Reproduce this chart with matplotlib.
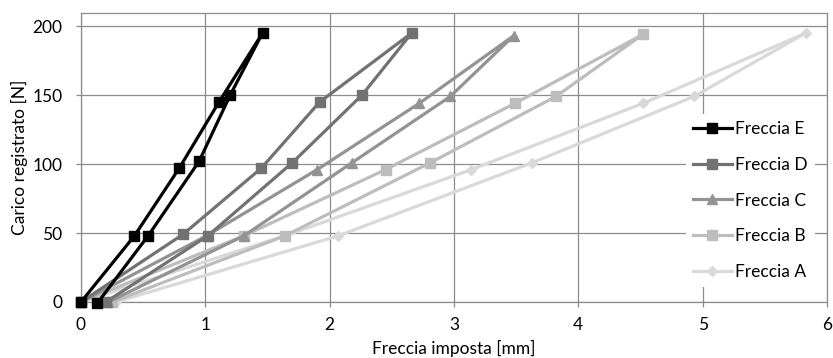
import matplotlib
matplotlib.use("Agg")
import matplotlib.pyplot as plt

plt.rcParams['font.family'] = ['Lato', 'DejaVu Sans']

series_names = ["Freccia E", "Freccia D", "Freccia C", "Freccia B", "Freccia A"]

E_x = [0, 0.43, 0.79, 1.11, 1.46, 1.20, 0.95, 0.54, 0.13]
E_y = [0, 48, 97, 145, 195, 150, 102, 48, -1]

D_x = [0, 0.82, 1.45, 1.92, 2.66, 2.26, 1.70, 1.02, 0.20]
D_y = [0, 49, 97, 145, 195, 150, 101, 48, 0]

C_x = [0, 1.01, 1.90, 2.72, 3.48, 2.97, 2.18, 1.31, 0.22]
C_y = [0, 48, 96, 144, 193, 149, 101, 48, 0]

B_x = [0, 1.31, 2.45, 3.49, 4.52, 3.82, 2.81, 1.64, 0.25]
B_y = [0, 48, 96, 144, 194, 149, 101, 48, 0]

A_x = [0, 1.64, 3.14, 4.52, 5.83, 4.93, 3.63, 2.07, 0.28]
A_y = [0, 48, 96, 144, 195, 149, 101, 48, 0]

x_ticks = [0, 1, 2, 3, 4, 5, 6]
y_ticks = [0, 50, 100, 150, 200]

xs = [E_x, D_x, C_x, B_x, A_x]
ys = [E_y, D_y, C_y, B_y, A_y]
colors = ["#000000", "#727272", "#939393", "#bdbdbd", "#d9d9d9"]
markers = ["s", "s", "^", "s", "D"]
msizes = [6.8, 6.8, 7.5, 6.8, 5.2]

fig = plt.figure(figsize=(8.33, 3.58), dpi=100)
ax = fig.add_axes([81/833, 1 - 302/358, (827-81)/833, (302-13)/358])

for i in reversed(range(5)):
    ax.plot(xs[i], ys[i], color=colors[i], lw=2.3, marker=markers[i],
            ms=msizes[i], mfc=colors[i], mec=colors[i], label=series_names[i],
            clip_on=False, zorder=3 + (5 - i))

ax.set_xlim(0, 6)
ax.set_ylim(0, 209.5)
ax.set_xticks(x_ticks)
ax.set_yticks(y_ticks)
ax.grid(True, color="#8c8c8c", lw=0.9)
ax.set_axisbelow(True)
for s in ax.spines.values():
    s.set_color("#8c8c8c")
    s.set_linewidth(0.9)
ax.tick_params(axis='both', colors="#8c8c8c", labelcolor="#000000", labelsize=12.5,
               length=3.5, width=0.9)
ax.tick_params(axis='y', pad=10)
ax.tick_params(axis='x', pad=7)
ax.set_xlabel("Freccia imposta [mm]", fontsize=12.5, labelpad=5)
ax.set_ylabel("Carico registrato [N]", fontsize=12.5, labelpad=3)

handles, labels = ax.get_legend_handles_labels()
order = list(reversed(range(5)))
leg = ax.legend([handles[j] for j in order], [labels[j] for j in order],
                loc="center left", bbox_to_anchor=(0.811, 0.351), frameon=True,
                fontsize=12.5, handlelength=2.25, handletextpad=0.17,
                labelspacing=1.14, borderaxespad=0)
leg.get_frame().set_edgecolor("none")
leg.get_frame().set_facecolor("white")
leg.get_frame().set_alpha(1)

fig.savefig("out.png", dpi=100)
